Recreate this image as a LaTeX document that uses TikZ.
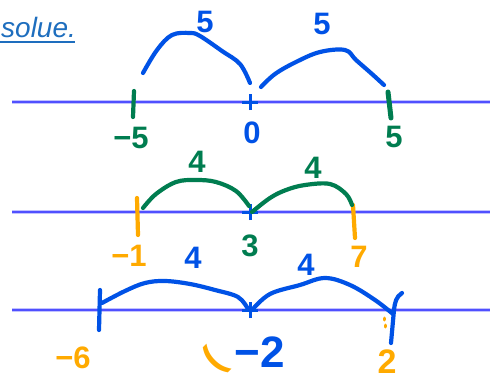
\documentclass[tikz,border=0pt]{standalone}
\usepackage{fontspec}
\setmainfont{Liberation Sans}
\definecolor{penblue}{RGB}{0,82,230}
\definecolor{pengreen}{RGB}{0,125,80}
\definecolor{penorange}{RGB}{255,170,0}
\definecolor{axiscol}{RGB}{80,80,255}
\definecolor{titlecol}{RGB}{30,110,190}
\begin{document}
\begin{tikzpicture}[x=1pt,y=-1pt,
  axis/.style={axiscol,line width=2pt},
  axhalo/.style={axiscol!35,line width=4pt},
  ink/.style={line width=4.2pt,line cap=round,line join=round},
  plusmark/.style={penblue,line width=3pt},
  lbl/.style={inner sep=0pt,font=\fontsize{31}{31}\selectfont\bfseries},
  biglbl/.style={inner sep=0pt,font=\fontsize{44}{44}\selectfont\bfseries}]
\useasboundingbox (0,0) rectangle (496,383);
\fill[white] (0,0) rectangle (496,383);

% title
\node[anchor=base west,inner sep=0pt,text=titlecol,font=\fontsize{28}{28}\selectfont\itshape] (title) at (1,37) {solue.};
\draw[titlecol,line width=2.2pt] (0,42) -- (75,42);

% axes
\foreach \yy/\nm in {102/a1,212/a2,310/a3}{
  \coordinate (\nm w) at (12,\yy);
  \coordinate (\nm e) at (490,\yy);
  \draw[axhalo] (\nm w) -- (\nm e);
  \draw[axis] (\nm w) -- (\nm e);
}

% centre marks
\foreach \yy/\nm in {102/c1,212/c2,310/c3}{
  \coordinate (\nm) at (250,\yy);
  \draw[plusmark] ([xshift=-8pt]\nm) -- ([xshift=8pt]\nm);
  \draw[plusmark] ([yshift=-8pt]\nm) -- ([yshift=8pt]\nm);
}

% ---- line 1 ----
\draw[ink,pengreen] (134,91) -- (133,117);
\draw[ink,pengreen,line width=5pt] (388,92) -- (391,118);
\draw[ink,penblue] plot[smooth,tension=0.6] coordinates {(143,73) (157,50) (172,35) (190,33) (200,36) (222,51) (240,64) (250,83)};
\draw[ink,penblue] plot[smooth,tension=0.6] coordinates {(261,87) (275,74) (296,62) (320,52) (345,50) (356,60) (372,74) (384,85)};
\node[lbl,text=penblue] (l1a) at (205,22) {5};
\node[lbl,text=penblue] (l1b) at (322,24) {5};
\node[lbl,text=pengreen] (m5) at (131,138) {−5};
\node[lbl,text=penblue] (z0) at (252,133) {0};
\node[lbl,text=pengreen] (p5) at (394,137) {5};

% ---- line 2 ----
\draw[ink,penorange] (137,198) -- (138,235);
\draw[ink,penorange] (353,205) -- (355,238);
\draw[ink,pengreen] plot[smooth,tension=0.6] coordinates {(143,208) (156,194) (176,182) (196,180) (216,182) (236,191) (249,206)};
\draw[ink,pengreen] plot[smooth,tension=0.6] coordinates {(252,212) (270,198) (286,190) (305,185) (330,184) (346,194) (352,205)};
\node[lbl,text=pengreen] (l2a) at (197,162) {4};
\node[lbl,text=pengreen] (l2b) at (313,168) {4};
\node[lbl,text=penorange] (m1) at (129,256) {−1};
\node[lbl,text=pengreen] (t3) at (250,246) {3};
\node[lbl,text=penorange] (s7) at (359,257) {7};

% ---- line 3 ----
\draw[ink,penblue] (100,290) -- (99,330);
\draw[ink,penblue] (402,293) .. controls (396,297) and (395,302) .. (394,310) -- (391,343);
\draw[ink,penblue] plot[smooth,tension=0.6] coordinates {(102,303) (125,291) (145,283) (165,281) (190,284) (215,290) (238,297) (248,309)};
\draw[ink,penblue] plot[smooth,tension=0.6] coordinates {(252,310) (270,294) (300,285) (325,278) (350,285) (375,300) (393,314)};
\draw[ink,penorange,line width=3pt] (384,318) -- (384,320) (385,325) -- (385,327);
\node[lbl,text=penblue] (l3a) at (193,258) {4};
\node[lbl,text=penblue] (l3b) at (306,265) {4};
\node[lbl,text=penorange] (m6) at (73,358) {−6};
\node[lbl,text=penorange,rotate=45,font=\fontsize{38}{38}\selectfont\bfseries] (par) at (215,361) {(};
\node[biglbl,text=penblue] (m2) at (260,352) {−2};
\node[lbl,text=penorange,font=\fontsize{34}{34}\selectfont\bfseries] (p2) at (387,362) {2};
\end{tikzpicture}
\end{document}
